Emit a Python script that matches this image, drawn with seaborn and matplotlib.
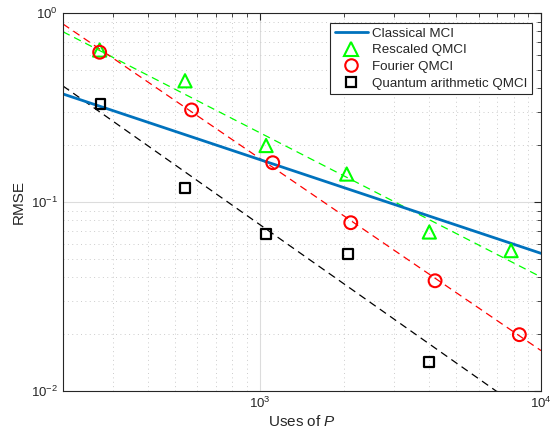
import numpy as np
import pandas as pd
import seaborn as sns
import matplotlib.pyplot as plt
from matplotlib.lines import Line2D
from matplotlib.ticker import LogLocator, NullFormatter

# measured points
rescaled_x = [270, 543, 1054, 2039, 4009, 7827]
rescaled_y = [0.637, 0.438, 0.199, 0.1406, 0.0694, 0.0553]
fourier_x = [270, 573, 1113, 2108, 4202, 8376]
fourier_y = [0.620, 0.307, 0.1614, 0.0777, 0.0383, 0.01986]
arith_x = [272, 543, 1054, 2056, 4009]
arith_y = [0.330, 0.119, 0.0677, 0.0531, 0.01418]

# lines (endpoints at x = 200 and x = 1e4)
line_x = [200, 10000]
classical_y = [0.373, 0.0535]
rescaled_fit_y = [0.796, 0.0401]
fourier_fit_y = [0.875, 0.01636]
arith_fit_y = [0.411, 0.0068]

sns.set_style("white")
plt.rcParams['font.family'] = ['Liberation Sans', 'DejaVu Sans']
plt.rcParams['mathtext.fontset'] = 'custom'
plt.rcParams['mathtext.it'] = 'Liberation Sans:italic'

fig = plt.figure(figsize=(5.51, 4.34), dpi=100)
ax = fig.add_axes([0.1143, 0.0991, 0.8676, 0.8709])
ax.set_xscale('log')
ax.set_yscale('log')

blue = '#0072BD'
green = '#00FF00'
red = '#FF0000'

sns.lineplot(x=line_x, y=rescaled_fit_y, ax=ax, color=green, lw=0.9, linestyle=(0, (6, 4)))
sns.lineplot(x=line_x, y=fourier_fit_y, ax=ax, color=red, lw=0.9, linestyle=(0, (6, 4)))
sns.lineplot(x=line_x, y=arith_fit_y, ax=ax, color='black', lw=0.9, linestyle=(0, (6, 4)))
sns.lineplot(x=line_x, y=classical_y, ax=ax, color=blue, lw=2)

sns.scatterplot(x=rescaled_x, y=rescaled_y, ax=ax, marker='^', s=90,
                fc='none', ec=green, linewidth=1.5, zorder=5)
sns.scatterplot(x=fourier_x, y=fourier_y, ax=ax, marker='o', s=85,
                fc='none', ec=red, linewidth=1.5, zorder=5)
sns.scatterplot(x=arith_x, y=arith_y, ax=ax, marker='s', s=50,
                fc='none', ec='black', linewidth=1.6, zorder=5)

ax.set_xlim(200, 10000)
ax.set_ylim(0.01, 1)

ax.xaxis.set_major_locator(LogLocator(base=10, numticks=10))
ax.xaxis.set_minor_locator(LogLocator(base=10, subs=np.arange(2, 10), numticks=20))
ax.yaxis.set_minor_locator(LogLocator(base=10, subs=np.arange(2, 10), numticks=20))
ax.xaxis.set_minor_formatter(NullFormatter())
ax.yaxis.set_minor_formatter(NullFormatter())

ax.grid(True, which='major', color='#dcdcdc', lw=0.8, ls='-')
ax.grid(True, which='minor', color='#cccccc', lw=0.7, ls=(0, (1, 3.5)))
ax.set_axisbelow(True)

ax.tick_params(which='both', direction='in', top=True, right=True, colors='#262626',
               labelsize=9.5)
ax.tick_params(which='major', length=5, width=0.8)
ax.tick_params(which='minor', length=3, width=0.6)
for s in ax.spines.values():
    s.set_color('#262626')
    s.set_linewidth(0.8)

ax.set_xlabel('Uses of $P$', fontsize=11, color='#262626', labelpad=2)
ax.set_ylabel('RMSE', fontsize=11, color='#262626', labelpad=4)

handles = [
    Line2D([], [], color=blue, lw=2),
    Line2D([], [], ls='none', marker='^', ms=9.5, mfc='none', mec=green, mew=1.5),
    Line2D([], [], ls='none', marker='o', ms=9, mfc='none', mec=red, mew=1.5),
    Line2D([], [], ls='none', marker='s', ms=7, mfc='none', mec='black', mew=1.6),
]
labels = ['Classical MCI', 'Rescaled QMCI', 'Fourier QMCI', 'Quantum arithmetic QMCI']
leg = ax.legend(handles, labels, loc='upper right', bbox_to_anchor=(0.981, 0.974),
                fontsize=9.6, frameon=True, fancybox=False, edgecolor='#262626',
                framealpha=1, borderpad=0.35, labelspacing=0.32, handlelength=2.5,
                handletextpad=0.3, borderaxespad=0)
leg.get_frame().set_linewidth(0.8)

fig.savefig('out.png', dpi=100)
